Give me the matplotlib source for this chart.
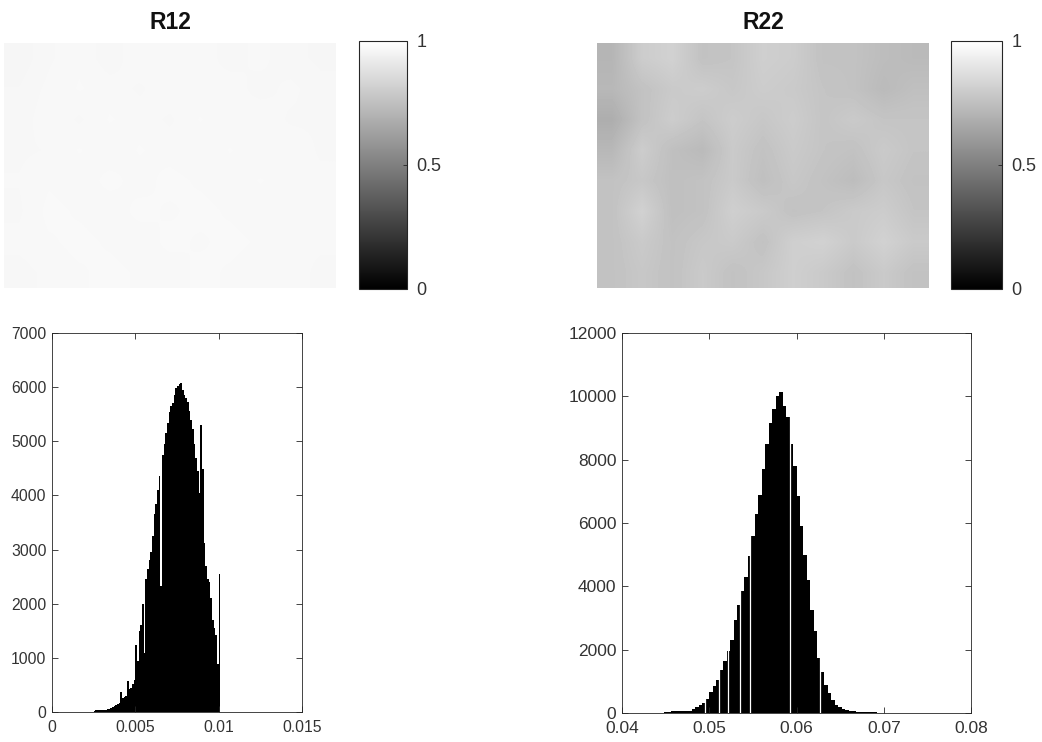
import numpy as np
import matplotlib
matplotlib.use("Agg")
import matplotlib.pyplot as plt

plt.rcParams['font.family'] = ['Liberation Sans', 'DejaVu Sans']

# Image panels: coarse gray levels (rows top -> bottom)
r12_img = [
    [0.962, 0.968, 0.972, 0.966, 0.972, 0.969, 0.971, 0.967, 0.970, 0.966, 0.964],
    [0.965, 0.970, 0.973, 0.971, 0.968, 0.972, 0.969, 0.971, 0.967, 0.970, 0.966],
    [0.966, 0.972, 0.968, 0.973, 0.971, 0.968, 0.973, 0.969, 0.972, 0.968, 0.968],
    [0.968, 0.969, 0.973, 0.970, 0.973, 0.971, 0.969, 0.973, 0.969, 0.972, 0.968],
    [0.969, 0.972, 0.970, 0.974, 0.971, 0.974, 0.972, 0.970, 0.973, 0.970, 0.970],
    [0.968, 0.974, 0.972, 0.970, 0.974, 0.972, 0.974, 0.972, 0.970, 0.972, 0.969],
    [0.970, 0.972, 0.974, 0.972, 0.970, 0.974, 0.972, 0.974, 0.972, 0.970, 0.970],
    [0.967, 0.970, 0.972, 0.974, 0.972, 0.970, 0.974, 0.972, 0.970, 0.972, 0.967],
]
r22_img = [
    [0.71, 0.80, 0.82, 0.76, 0.77, 0.81, 0.80, 0.76, 0.76, 0.74, 0.73],
    [0.72, 0.76, 0.79, 0.80, 0.78, 0.80, 0.79, 0.77, 0.76, 0.73, 0.75],
    [0.68, 0.76, 0.80, 0.77, 0.80, 0.78, 0.80, 0.77, 0.79, 0.77, 0.77],
    [0.72, 0.80, 0.75, 0.73, 0.79, 0.76, 0.79, 0.77, 0.76, 0.79, 0.77],
    [0.76, 0.78, 0.75, 0.76, 0.79, 0.75, 0.78, 0.76, 0.74, 0.78, 0.76],
    [0.76, 0.82, 0.75, 0.76, 0.81, 0.79, 0.76, 0.77, 0.79, 0.80, 0.77],
    [0.76, 0.79, 0.76, 0.78, 0.79, 0.76, 0.81, 0.82, 0.79, 0.82, 0.79],
    [0.76, 0.78, 0.76, 0.79, 0.76, 0.78, 0.81, 0.79, 0.76, 0.79, 0.76],
]

# Histogram of R12: bins of 0.0001 from 0.0025 to 0.0101
r12_counts = [25, 30, 30, 30, 35, 35, 40, 45, 55, 60,
              70, 90, 110, 135, 150, 170, 365, 250, 270, 300,
              580, 420, 450, 510, 600, 1240, 950, 1500, 1600, 2000,
              1090, 2450, 2650, 2800, 2950, 3250, 3650, 3850, 4100, 4350,
              2320, 4750, 4950, 5150, 5340, 5550, 5660, 5700, 5850, 5980,
              6030, 6060, 6080, 5950, 5850, 5800, 5720, 5560, 5400, 5220,
              4950, 4700, 4450, 4050, 5300, 4490, 3120, 2700, 2450, 2400,
              2100, 1700, 1550, 1420, 885, 2550]
r12_edges = np.linspace(0.0025, 0.0101, len(r12_counts) + 1)

# Histogram of R22: bins of 0.0004 from 0.0448 to 0.0692
r22_counts = [30, 40, 50, 50, 50, 55, 60, 70, 120, 200,
              260, 320, 450, 650, 850, 1050, 1350, 1650, 1950, 2300,
              2950, 3400, 3850, 4300, 4950, 5600, 6300, 6900, 7700, 8500,
              9150, 9600, 10000, 10130, 9700, 9350, 8500, 7800, 6850, 5900,
              5000, 4200, 3250, 2600, 1750, 1300, 900, 620, 400, 260,
              180, 130, 100, 75, 60, 45, 40, 35, 30, 25, 20]
r22_edges = np.linspace(0.0448, 0.0692, len(r22_counts) + 1)
# thin empty columns seen inside the R22 histogram
r22_gaps = [0.04955, 0.05107, 0.05215, 0.05348, 0.05471, 0.05931, 0.06268]

r12_xticks = [0, 0.005, 0.01, 0.015]
r12_xlabels = ['0', '0.005', '0.01', '0.015']
r12_yticks = [0, 1000, 2000, 3000, 4000, 5000, 6000, 7000]
r22_xticks = [0.04, 0.05, 0.06, 0.07, 0.08]
r22_xlabels = ['0.04', '0.05', '0.06', '0.07', '0.08']
r22_yticks = [0, 2000, 4000, 6000, 8000, 10000, 12000]

dark = '#262626'
W, H = 1042, 742


def box(x0, y0, x1, y1):
    # pixel box (top-left origin) -> figure fraction rect
    return [x0 / W, 1 - y1 / H, (x1 - x0) / W, (y1 - y0) / H]


fig = plt.figure(figsize=(10.42, 7.42), dpi=100)


def image_panel(img, title, rect, crect):
    ax = fig.add_axes(rect)
    im = ax.imshow(img, cmap='gray', vmin=0, vmax=1, aspect='auto',
                   interpolation='bilinear')
    ax.axis('off')
    ax.set_title(title, fontsize=16.5, fontweight='bold', pad=10, color='#111111')
    cax = fig.add_axes(crect)
    cb = fig.colorbar(im, cax=cax, ticks=[0, 0.5, 1])
    cax.set_yticklabels(['0', '0.5', '1'])
    cax.tick_params(direction='in', length=3, width=0.6, labelsize=13,
                    pad=7, color=dark, labelcolor='#333333')
    cb.outline.set_edgecolor(dark)
    cb.outline.set_linewidth(0.8)


def hist_panel(rect, counts, edges, xlim, ylim, xticks, xlabels, yticks, fs):
    ax = fig.add_axes(rect)
    ax.stairs(counts, edges, fill=True, color='black', linewidth=0)
    ax.set_xlim(*xlim)
    ax.set_ylim(*ylim)
    ax.set_xticks(xticks)
    ax.set_xticklabels(xlabels)
    ax.set_yticks(yticks)
    ax.set_yticklabels([str(v) for v in yticks])
    ax.tick_params(direction='in', top=True, right=True, length=4, width=0.6,
                   labelsize=fs, color=dark, labelcolor='#333333')
    ax.tick_params(axis='x', pad=6)
    ax.tick_params(axis='y', pad=4)
    for s in ax.spines.values():
        s.set_color(dark)
        s.set_linewidth(0.6)
    return ax


image_panel(r12_img, 'R12', box(4, 43, 336, 288), box(359, 41, 407, 289))
image_panel(r22_img, 'R22', box(597, 43, 929, 288), box(951, 41, 1002, 289))

hist_panel(box(52, 333, 302, 712), r12_counts, r12_edges, (0, 0.015), (0, 7000),
           r12_xticks, r12_xlabels, r12_yticks, 11.3)
ax4 = hist_panel(box(622, 333, 971, 713), r22_counts, r22_edges, (0.04, 0.08),
                 (0, 12000), r22_xticks, r22_xlabels, r22_yticks, 12.5)
ax4.vlines(r22_gaps, 0, 11000, colors='white', linewidth=0.9)

fig.savefig('out.png', dpi=100)
